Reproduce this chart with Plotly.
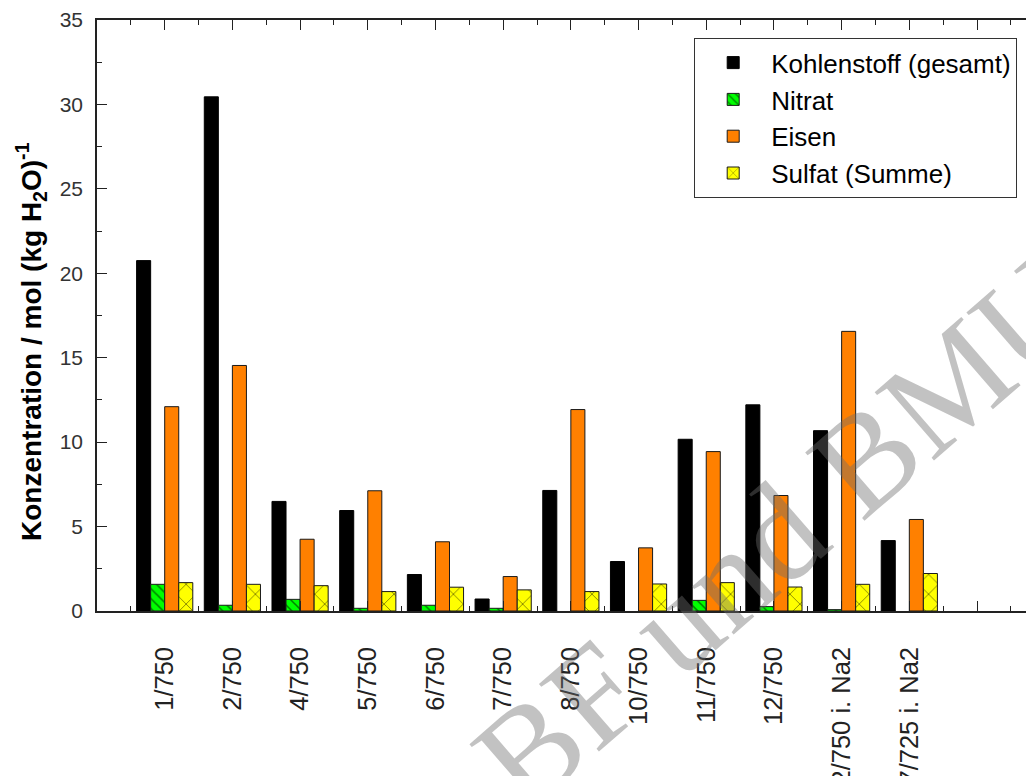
import plotly.graph_objects as go

categories = ["1/750", "2/750", "4/750", "5/750", "6/750", "7/750", "8/750",
              "10/750", "11/750", "12/750", "2/750 i. Na2", "7/725 i. Na2"]
kohlenstoff = [20.75, 30.45, 6.49, 5.95, 2.16, 0.71, 7.14, 2.93, 10.17, 12.21, 10.68, 4.17]
nitrat = [1.58, 0.34, 0.69, 0.16, 0.34, 0.16, None, None, 0.63, 0.26, 0.08, None]
eisen = [12.1, 14.54, 4.25, 7.12, 4.10, 2.04, 11.93, 3.74, 9.44, 6.84, 16.56, 5.42]
sulfat = [1.68, 1.58, 1.50, 1.15, 1.41, 1.25, 1.15, 1.60, 1.68, 1.42, 1.58, 2.22]

positions = [i + 1 for i in range(len(categories))]
FONT = "Liberation Sans, Arial, sans-serif"
EDGE = "#1a1a1a"

# page offset of the figure (browser body margin) and plot box
OFF = 8
W, H = 1034, 776
L, T, B = 89, 12, 173
PW = W - L
PH = H - T - B


def px(xp):
    return (xp - OFF - L) / PW


def py(yp):
    return (H - B - (yp - OFF)) / PH


fig = go.Figure()
fig.add_trace(go.Bar(name="Kohlenstoff (gesamt)", x=positions, y=kohlenstoff,
                     marker=dict(color="#000000", line=dict(color="#000000", width=1))))
fig.add_trace(go.Bar(name="Nitrat", x=positions, y=nitrat,
                     marker=dict(color="#00ff00", line=dict(color=EDGE, width=1),
                                 pattern=dict(shape="\\", size=7, solidity=0.22,
                                              fgcolor="#000000", bgcolor="#00ff00"))))
fig.add_trace(go.Bar(name="Eisen", x=positions, y=eisen,
                     marker=dict(color="#ff8000", line=dict(color=EDGE, width=1))))
fig.add_trace(go.Bar(name="Sulfat (Summe)", x=positions, y=sulfat,
                     marker=dict(color="#ffff00", line=dict(color=EDGE, width=1),
                                 pattern=dict(shape="x", size=14, solidity=0.12,
                                              fgcolor="#000000", bgcolor="#ffff00"))))

fig.update_layout(
    width=W, height=H,
    margin=dict(l=L, r=0, t=T, b=B),
    paper_bgcolor="white", plot_bgcolor="white",
    barmode="group", bargap=0.17, bargroupgap=0,
    font=dict(family=FONT, color="#111111"),
    showlegend=True,
    legend=dict(x=px(694), y=py(38), xanchor="left", yanchor="top",
                bordercolor="#333333", borderwidth=1.2, bgcolor="white",
                font=dict(family=FONT, size=26, color="#000000"),
                itemwidth=66, traceorder="normal"),
)

fig.update_xaxes(
    range=[0, 13.96], showline=True, linecolor="#222222", linewidth=1.6,
    mirror="ticks", ticks="inside", ticklen=10, tickwidth=1.2, tickcolor="#222222",
    tickmode="array", tickvals=positions + [len(categories) + 1],
    ticktext=categories + [" "], tickangle=-90,
    tickfont=dict(family=FONT, size=25.5, color="#222222"),
    ticklabelstandoff=24, showgrid=False, zeroline=False, automargin=False,
    minor=dict(ticks="inside", ticklen=5, tickmode="linear", tick0=0, dtick=0.5,
               tickcolor="#222222", tickwidth=1.2, showgrid=False),
)
fig.update_yaxes(
    range=[0, 35], showline=True, linecolor="#222222", linewidth=1.6,
    mirror=False, ticks="inside", ticklen=10, tickwidth=1.2, tickcolor="#222222",
    tickmode="linear", tick0=0, dtick=5,
    tickfont=dict(family=FONT, size=21, color="#333333"),
    ticklabelstandoff=8, showgrid=False, zeroline=False, automargin=False,
    minor=dict(ticks="inside", ticklen=5, tickmode="linear", tick0=0, dtick=2.5,
               tickcolor="#222222", tickwidth=1.2, showgrid=False),
)

fig.add_annotation(
    text="<b>Konzentration / mol (kg H<sub>2</sub>O)<sup>-1</sup></b>",
    xref="paper", yref="paper", x=px(31), y=py(342),
    xanchor="center", yanchor="middle", textangle=-90, showarrow=False,
    font=dict(family=FONT, size=28, color="#000000"),
)

fig.add_annotation(
    text="BF und BMU", xref="paper", yref="paper",
    x=px(781), y=py(531), xanchor="center", yanchor="middle",
    textangle=-41, showarrow=False,
    font=dict(family="Liberation Serif, Times New Roman, serif", size=138,
              color="rgba(110,110,110,0.42)"),
)

fig.write_html("out.html")
